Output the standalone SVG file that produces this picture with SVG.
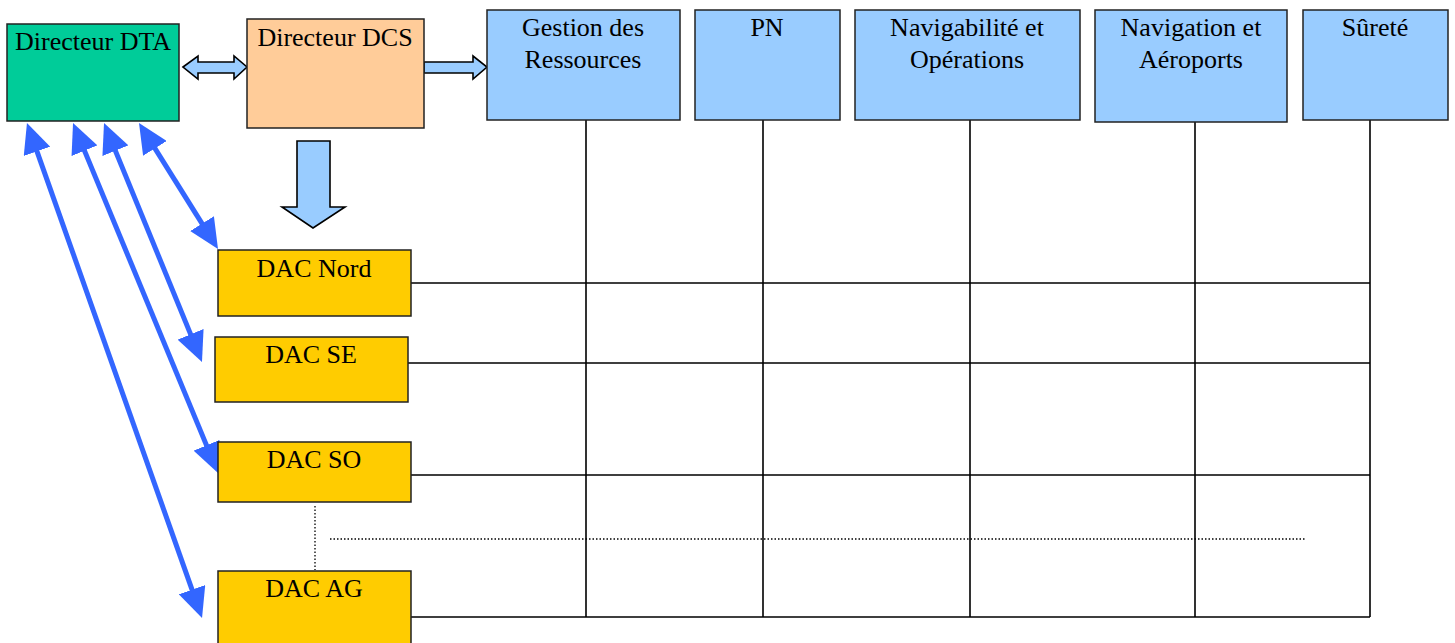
<svg xmlns="http://www.w3.org/2000/svg" width="1455" height="643" viewBox="0 0 1455 643">
<style>
.box{stroke:#222;stroke-width:1.5}
.dta{fill:#00CC99}
.dcs{fill:#FFCC99}
.dept{fill:#99CCFF}
.dac{fill:#FFCC00}
.t{font-family:"Liberation Serif","Times New Roman",serif;font-size:26px;fill:#000;text-anchor:middle}
.grid{stroke:#000;stroke-width:1.6;fill:none}
.dot{stroke:#000;stroke-width:1.3;stroke-dasharray:1.5 2;fill:none}
.blue{stroke:#3366FF;stroke-width:5;fill:none;marker-start:url(#bh);marker-end:url(#bh)}
.fat{fill:#99CCFF;stroke:#000;stroke-width:1.6;stroke-linejoin:miter}
</style>
<defs>
<marker id="bh" viewBox="0 0 30 28" refX="5" refY="14" markerWidth="30" markerHeight="28" markerUnits="userSpaceOnUse" orient="auto-start-reverse">
<path d="M0,0 L30,14 L0,28 z" fill="#3366FF"/>
</marker>
</defs>
<rect width="1455" height="643" fill="#fff"/>
<g id="connectors">
<path class="grid" d="M586,120 V617 M763,120 V617 M970,120 V617 M1195,122 V617 M1370,120 V617"/>
<path class="grid" d="M411,283 H1370 M408,363 H1370 M411,475 H1370 M411,617 H1370"/>
<path class="dot" d="M330,539 H1305 M315,506 V570"/>
<polygon class="fat" points="183,67 198,56 198,62 234,62 234,56 247,67 234,79 234,73 198,73 198,79"/>
<polygon class="fat" points="424,62 473,62 473,56 487,67 473,79 473,73 424,73"/>
<polygon class="fat" points="297,141 330,141 330,207 345,207 313,228 282,207 297,207"/>
<line class="blue" x1="152.3" y1="144.2" x2="204.7" y2="227.8"/>
<line class="blue" x1="113.5" y1="146.1" x2="192.5" y2="338.9"/>
<line class="blue" x1="82.6" y1="146.1" x2="208.4" y2="449.9"/>
<line class="blue" x1="35.3" y1="146.6" x2="193.7" y2="594.4"/>
</g>
<g id="dta"><rect class="box dta" x="7" y="24" width="172" height="97"/><text class="t" x="93" y="50">Directeur DTA</text></g>
<g id="dcs"><rect class="box dcs" x="247" y="19" width="177" height="109"/><text class="t" x="335" y="46">Directeur DCS</text></g>
<g id="gestion"><rect class="box dept" x="487" y="10" width="193" height="110"/><text class="t" x="583" y="36">Gestion des</text><text class="t" x="583" y="68">Ressources</text></g>
<g id="pn"><rect class="box dept" x="695" y="10" width="145" height="110"/><text class="t" x="767" y="36">PN</text></g>
<g id="navigabilite"><rect class="box dept" x="855" y="10" width="225" height="110"/><text class="t" x="967" y="36">Navigabilité et</text><text class="t" x="967" y="68">Opérations</text></g>
<g id="navigation"><rect class="box dept" x="1095" y="10" width="192" height="112"/><text class="t" x="1191" y="36">Navigation et</text><text class="t" x="1191" y="68">Aéroports</text></g>
<g id="surete"><rect class="box dept" x="1303" y="10" width="145" height="110"/><text class="t" x="1375" y="36">Sûreté</text></g>
<g id="dac-nord"><rect class="box dac" x="218" y="250" width="193" height="66"/><text class="t" x="314" y="277">DAC Nord</text></g>
<g id="dac-se"><rect class="box dac" x="215" y="337" width="193" height="65"/><text class="t" x="311" y="363">DAC SE</text></g>
<g id="dac-so"><rect class="box dac" x="218" y="442" width="193" height="60"/><text class="t" x="314" y="468">DAC SO</text></g>
<g id="dac-ag"><rect class="box dac" x="218" y="571" width="193" height="90"/><text class="t" x="314" y="597">DAC AG</text></g>
</svg>
